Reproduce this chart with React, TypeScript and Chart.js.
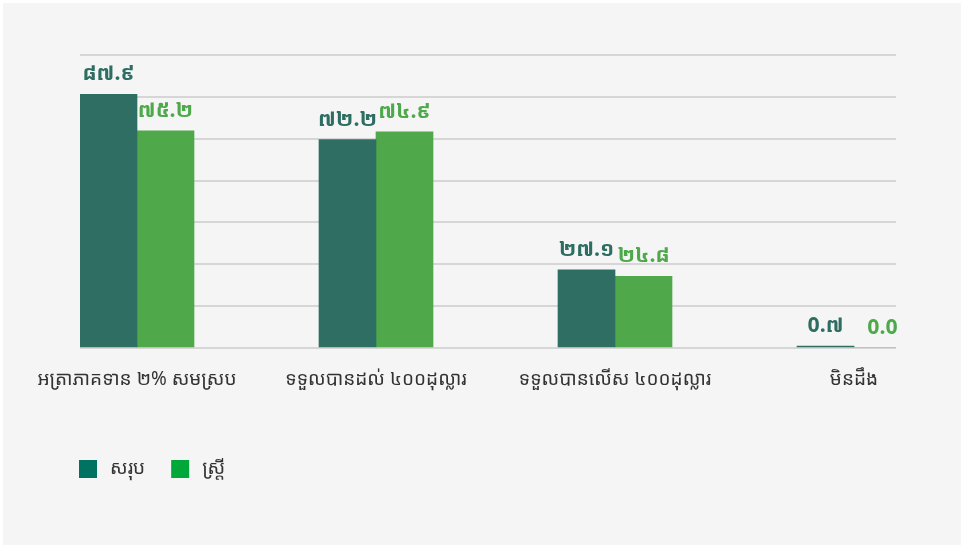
import React, { useEffect, useRef } from "react";
import { Chart, registerables } from "chart.js";

Chart.register(...registerables);

const categories = [
  "អត្រាភាគទាន ២% សមស្រប",
  "ទទួលបានដល់ ៤០០ដុល្លារ",
  "ទទួលបានលើស ៤០០ដុល្លារ",
  "មិនដឹង",
];
const seriesNames = ["សរុប", "ស្ត្រី"];
const totalValues = [87.9, 72.2, 27.1, 0.7];
const womenValues = [75.2, 74.9, 24.8, 0.0];

const barColors = ["#2f6f63", "#4fa94b"];
const labelColors = ["#2e6e62", "#4ea94b"];
const legendColors = ["#007261", "#00a83a"];

const FONT = "'Noto Sans Khmer', 'Khmer OS', Roboto, 'Noto Sans', 'DejaVu Sans', sans-serif";
const KHMER_DIGITS = "០១២៣៤៥៦៧៨៩";
const fmt = (v: number) => v.toFixed(1).replace(/[1-9]/g, (d) => KHMER_DIGITS[+d]);

const W = 958;
const H = 542;
const Y_MAX = 101.5;
const GRID_COUNT = 7;

const dataLabelPlugin = {
  id: "dataLabels",
  afterDatasetsDraw(chart: any) {
    const ctx = chart.ctx;
    ctx.save();
    ctx.font = `bold 21px ${FONT}`;
    ctx.textAlign = "center";
    ctx.textBaseline = "alphabetic";
    chart.data.datasets.forEach((ds: any, di: number) => {
      const meta = chart.getDatasetMeta(di);
      meta.data.forEach((el: any, i: number) => {
        ctx.fillStyle = labelColors[di];
        ctx.fillText(fmt(ds.data[i].y), el.x, el.y - 14);
      });
    });
    ctx.restore();
  },
};

const legendPlugin = {
  id: "customLegend",
  afterDraw(chart: any) {
    const ctx = chart.ctx;
    ctx.save();
    ctx.font = `19px ${FONT}`;
    ctx.textBaseline = "middle";
    ctx.textAlign = "left";
    let x = 76;
    const y = 457;
    const box = 18;
    seriesNames.forEach((name, i) => {
      ctx.fillStyle = legendColors[i];
      ctx.fillRect(x, y, box, box);
      ctx.fillStyle = "#333333";
      const tx = x + box + 13;
      ctx.fillText(name, tx, y + box / 2);
      x = tx + ctx.measureText(name).width + 26;
    });
    ctx.restore();
  },
};

export default function App() {
  const ref = useRef<HTMLCanvasElement | null>(null);

  useEffect(() => {
    document.body.style.margin = "0";
    document.body.style.background = "#ffffff";
    const canvas = ref.current;
    if (!canvas) return;
    const chart = new Chart(canvas, {
      type: "bar",
      data: {
        datasets: [
          {
            label: seriesNames[0],
            data: totalValues.map((y, i) => ({ x: i, y })),
            backgroundColor: barColors[0],
            barThickness: 57,
          },
          {
            label: seriesNames[1],
            data: womenValues.map((y, i) => ({ x: i, y })),
            backgroundColor: barColors[1],
            barThickness: 57,
          },
        ],
      } as any,
      options: {
        animation: false,
        responsive: false,
        layout: { padding: { left: 77, right: W - 893, top: 52, bottom: 0 } },
        scales: {
          x: {
            type: "linear",
            offset: false,
            min: -57 / 239,
            max: -57 / 239 + 816 / 239,
            grid: { display: false, drawTicks: false, offset: false },
            border: { display: false },
            afterBuildTicks: (axis: any) => {
              axis.ticks = categories.map((_, i) => ({ value: i }));
            },
            afterFit: (s: any) => {
              s.height = H - 345;
            },
            ticks: {
              autoSkip: false,
              maxRotation: 0,
              minRotation: 0,
              padding: 20,
              color: "#333333",
              font: { family: FONT, size: 19 },
              callback: (v: any) => categories[Math.round(Number(v))] ?? "",
            },
          },
          y: {
            min: 0,
            max: Y_MAX,
            afterBuildTicks: (axis: any) => {
              axis.ticks = Array.from({ length: GRID_COUNT + 1 }, (_, i) => ({
                value: (i * Y_MAX) / GRID_COUNT,
              }));
            },
            afterFit: (s: any) => {
              s.width = 0;
            },
            ticks: { display: false },
            grid: { color: "#d6d6d6", lineWidth: 2, drawTicks: false },
            border: { display: false },
          },
        },
        plugins: {
          legend: { display: false },
          tooltip: { enabled: false },
        },
      } as any,
      plugins: [dataLabelPlugin, legendPlugin],
    });
    return () => chart.destroy();
  }, []);

  return (
    <div
      style={{
        position: "absolute",
        left: 3,
        top: 3,
        width: W,
        height: H,
        background: "#f5f5f5",
      }}
    >
      <canvas ref={ref} width={W} height={H} style={{ display: "block" }} />
    </div>
  );
}
